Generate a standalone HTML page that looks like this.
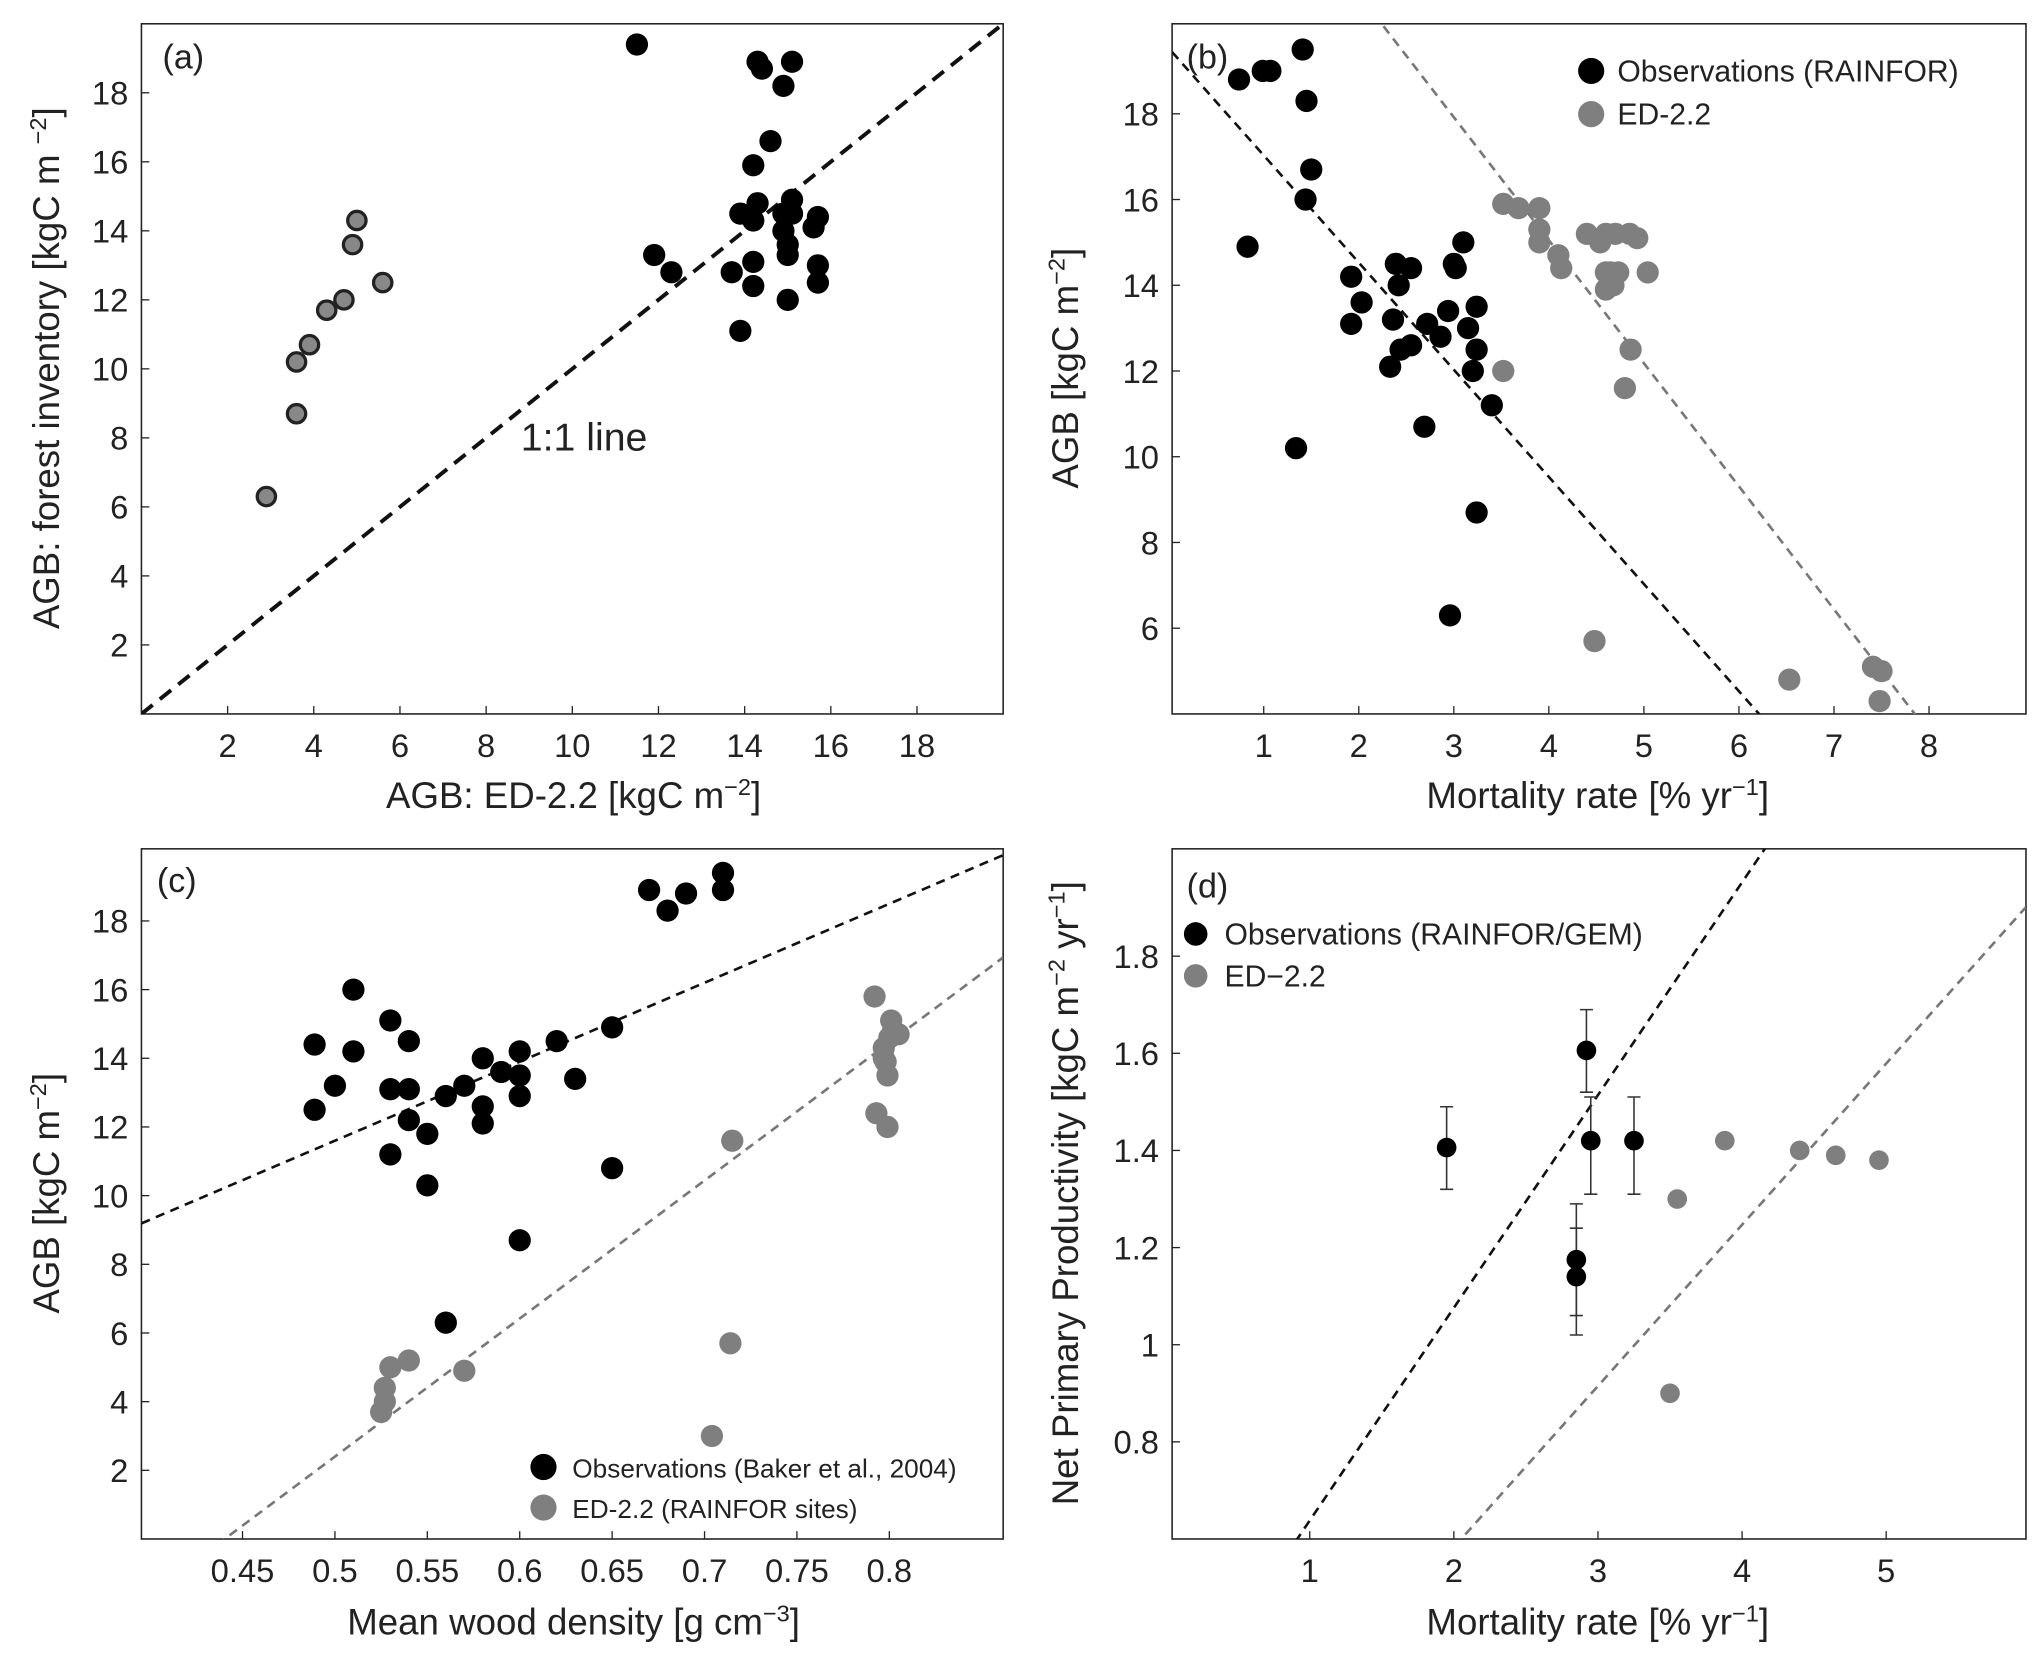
<!DOCTYPE html>
<html><head><meta charset="utf-8"><style>
html,body{margin:0;padding:0;background:#fff;overflow:hidden;width:2043px;height:1661px}
svg{display:block;font-family:"Liberation Sans",Arial,sans-serif}
</style></head><body>
<svg id="fig" width="2043" height="1661" viewBox="0 0 1560 1268" xmlns="http://www.w3.org/2000/svg"></svg>
<script>
// Panel (a)
const aGrayX=[2.9,3.6,3.6,3.9,4.3,4.7,4.9,5.0,5.6];
const aGrayY=[6.3,8.7,10.2,10.7,11.7,12.0,13.6,14.3,12.5];
const aBlackX=[11.5,11.9,12.3,13.7,13.9,13.9,14.2,14.2,14.2,14.2,14.3,14.3,14.4,14.6,14.9,14.9,14.9,15.0,15.0,15.0,15.1,15.1,15.1,15.7,15.6,15.7,15.7];
const aBlackY=[19.4,13.3,12.8,12.8,14.5,11.1,15.9,14.3,13.1,12.4,14.8,18.9,18.7,16.6,18.2,14.5,14.0,12.0,13.6,13.3,14.5,14.9,18.9,14.4,14.1,13.0,12.5];
const aTicksX=[2,4,6,8,10,12,14,16,18];
const aTicksY=[2,4,6,8,10,12,14,16,18];
// Panel (b)
const bBlackX=[0.74,0.99,1.07,1.41,1.45,1.5,1.44,0.83,1.34,1.92,2.03,1.92,2.39,2.42,2.55,2.36,2.33,2.44,2.55,2.72,2.69,2.86,2.94,3.0,3.02,3.1,3.15,3.24,3.24,3.2,3.4,3.24,2.96];
const bBlackY=[18.8,19.0,19.0,19.5,18.3,16.7,16.0,14.9,10.2,14.2,13.6,13.1,14.5,14.0,14.4,13.2,12.1,12.5,12.6,13.1,10.7,12.8,13.4,14.5,14.4,15.0,13.0,13.5,12.5,12.0,11.2,8.7,6.3];
const bGrayX=[3.52,3.68,3.9,3.9,3.9,4.1,4.13,4.4,4.54,4.6,4.7,4.85,4.93,5.04,4.6,4.65,4.73,4.6,4.68,3.52,4.86,4.8,4.48,6.53,7.41,7.5,7.48];
const bGrayY=[15.9,15.8,15.8,15.3,15.0,14.7,14.4,15.2,15.0,15.2,15.2,15.2,15.1,14.3,14.3,14.3,14.3,13.9,14.0,12.0,12.5,11.6,5.7,4.8,5.1,5.0,4.3];
const bFitBlack=[19.53,-2.5];
const bFitGray=[26.53,-2.87];
const bTicksX=[1,2,3,4,5,6,7,8];
const bTicksY=[6,8,10,12,14,16,18];
// Panel (c)
const cBlackX=[0.489,0.489,0.5,0.51,0.51,0.53,0.53,0.53,0.54,0.54,0.54,0.55,0.55,0.56,0.56,0.57,0.58,0.58,0.58,0.59,0.6,0.6,0.6,0.6,0.62,0.63,0.65,0.65,0.67,0.68,0.69,0.71,0.71];
const cBlackY=[12.5,14.4,13.2,16.0,14.2,15.1,13.1,11.2,14.5,13.1,12.2,11.8,10.3,12.9,6.3,13.2,14.0,12.6,12.1,13.6,14.2,13.5,12.9,8.7,14.5,13.4,14.9,10.8,18.9,18.3,18.8,19.4,18.9];
const cGrayX=[0.525,0.527,0.527,0.53,0.54,0.57,0.704,0.714,0.715,0.792,0.793,0.799,0.797,0.798,0.799,0.801,0.802,0.805,0.8,0.797];
const cGrayY=[3.7,4.0,4.4,5.0,5.2,4.9,3.0,5.7,11.6,15.8,12.4,12.0,14.3,13.9,13.5,15.1,14.8,14.7,14.6,14.0];
const cFitBlack=[0.1,23];
const cFitGray=[-17.7,40.2];
const cTicksX=[0.45,0.5,0.55,0.6,0.65,0.7,0.75,0.8];
const cTicksY=[2,4,6,8,10,12,14,16,18];
// Panel (d)
const dBlackX=[1.95,2.92,2.95,3.25,2.85,2.85];
const dBlackY=[1.406,1.606,1.42,1.42,1.175,1.14];
const dBlackLo=[1.32,1.52,1.31,1.31,1.06,1.02];
const dBlackHi=[1.49,1.69,1.51,1.51,1.29,1.24];
const dGrayX=[3.55,3.88,4.4,4.65,4.95,3.5];
const dGrayY=[1.30,1.42,1.40,1.39,1.38,0.90];
const dFitBlack=[0.2,0.438];
const dFitGray=[-0.081,0.332];
const dTicksX=[1,2,3,4,5];
const dTicksY=[0.8,1,1.2,1.4,1.6,1.8];
const dTickLabels=["0.8","1","1.2","1.4","1.6","1.8"];

const NS="http://www.w3.org/2000/svg";
const svg=document.getElementById('fig');
function mk(tag,attrs,parent){const e=document.createElementNS(NS,tag);for(const k in attrs)e.setAttribute(k,attrs[k]);(parent||svg).appendChild(e);return e;}
function scale(d0,d1,r0,r1){return v=>r0+(v-d0)/(d1-d0)*(r1-r0);}

function panel(p){
  const g=mk('g',{});
  
  
  const sx=scale(p.xd[0],p.xd[1],p.x0,p.x1), sy=scale(p.yd[0],p.yd[1],p.y1,p.y0);
  const box=mk('rect',{x:p.x0,y:p.y0,width:p.x1-p.x0,height:p.y1-p.y0,fill:'none',stroke:'#222','stroke-width':1.2},g);
  
  
  p.tx.forEach((t,i)=>{const x=sx(t);
    mk('line',{x1:x,x2:x,y1:p.y1,y2:p.y1-6,stroke:'#222'},g);
    const tl=mk('text',{x:x,y:p.y1+33,'font-size':25,'text-anchor':'middle',fill:'#222'},g);tl.textContent=p.txl?p.txl[i]:t;
    
    });
  p.ty.forEach((t,i)=>{const y=sy(t);
    mk('line',{x1:p.x0,x2:p.x0+6,y1:y,y2:y,stroke:'#222'},g);
    const tl=mk('text',{x:p.x0-10,y:y+9,'font-size':25,'text-anchor':'end',fill:'#222'},g);tl.textContent=p.tyl?p.tyl[i]:t;
    
    });
  const clip=mk('clipPath',{id:'clip'+p.id},g);
  mk('rect',{x:p.x0,y:p.y0,width:p.x1-p.x0,height:p.y1-p.y0},clip);
  const inner=mk('g',{'clip-path':'url(#clip'+p.id+')'},g);
  (p.fits||[]).forEach(f=>{const xa=p.xd[0],xb=p.xd[1];
    const l=mk('line',{x1:sx(xa),y1:sy(f.c[0]+f.c[1]*xa),x2:sx(xb),y2:sy(f.c[0]+f.c[1]*xb),stroke:f.color,'stroke-width':f.w||2,'stroke-dasharray':f.dash||'7,5'},inner);
    
    });
  (p.series||[]).forEach(s=>{
    if(s.lo){s.x.forEach((v,i)=>{const x=sx(v);
      const e=mk('path',{d:`M${x},${sy(s.lo[i])}V${sy(s.hi[i])}M${x-5},${sy(s.lo[i])}h10M${x-5},${sy(s.hi[i])}h10`,stroke:'#333','stroke-width':1.2,fill:'none'},inner);
      
      });}
    s.x.forEach((v,i)=>{
      const c=mk('circle',{cx:sx(v),cy:sy(s.y[i]),r:s.r||8.5,fill:s.fill,stroke:s.stroke||'none','stroke-width':s.sw||0},inner);
      
      });
  });
  return {g,sx,sy};
}
function label(txt,x,y,rot,name,size){
  const t=mk('text',{x:x,y:y,'font-size':size||28,'text-anchor':'middle',fill:'#222',transform:rot?`rotate(-90 ${x} ${y})`:''});
  t.innerHTML=txt;
  
  
  return t;
}
const sup=s=>`<tspan font-size="18" dy="-10">${s}</tspan><tspan dy="10">`;

// (a)
panel({id:'a',x0:108,x1:766,y0:18,y1:545,xd:[0,20],yd:[0,20],tx:aTicksX,ty:aTicksY,
  fits:[{c:[0,1],color:'#111',w:3,dash:'11,7',name:'one-to-one-line'}],
  series:[{x:aGrayX,y:aGrayY,fill:'#888',stroke:'#222',sw:2.5,r:7,name:'ed-point'},{x:aBlackX,y:aBlackY,fill:'#000',name:'inventory-point'}]});
label('(a)',140,52,false,'panel-a-label',26);
label('1:1 line',446,344,false,'one-to-one-annotation',30);
label('AGB: forest inventory [kgC m '+sup('−2')+']</tspan>',45,281,true,'y-axis-title-a');
label('AGB: ED-2.2 [kgC m'+sup('−2')+']</tspan>',438,617,false,'x-axis-title-a');

// (b)
panel({id:'b',x0:895,x1:1547,y0:18,y1:545,xd:[0.036,9.02],yd:[4,20.1],tx:bTicksX,ty:bTicksY,
  fits:[{c:bFitBlack,color:'#111',name:'obs-fit-line'},{c:bFitGray,color:'#777',name:'ed-fit-line'}],
  series:[{x:bGrayX,y:bGrayY,fill:'#7f7f7f',name:'ed-point'},{x:bBlackX,y:bBlackY,fill:'#000',name:'obs-point'}]});
label('(b)',922,52,false,'panel-b-label',26);
mk('circle',{cx:1215,cy:54,r:10,fill:'#000'});
mk('circle',{cx:1215,cy:87,r:10,fill:'#7f7f7f'});
const lb1=mk('text',{x:1235,y:62,'font-size':23,fill:'#222'});lb1.textContent='Observations (RAINFOR)';

const lb2=mk('text',{x:1235,y:95,'font-size':23,fill:'#222'});lb2.textContent='ED-2.2';

label('AGB [kgC m'+sup('−2')+']</tspan>',823,281,true,'y-axis-title-b');
label('Mortality rate [% yr'+sup('−1')+']</tspan>',1220,617,false,'x-axis-title-b');

// (c)
panel({id:'c',x0:108,x1:766,y0:648,y1:1175,xd:[0.3953,0.8616],yd:[0,20.1],tx:cTicksX,ty:cTicksY,
  txl:cTicksX.map(v=>String(v)),
  fits:[{c:cFitBlack,color:'#111',name:'obs-fit-line'},{c:cFitGray,color:'#777',name:'ed-fit-line'}],
  series:[{x:cGrayX,y:cGrayY,fill:'#7f7f7f',name:'ed-point'},{x:cBlackX,y:cBlackY,fill:'#000',name:'obs-point'}]});
label('(c)',135,681,false,'panel-c-label',26);
mk('circle',{cx:415,cy:1120,r:10,fill:'#000'});
mk('circle',{cx:415,cy:1151,r:10,fill:'#7f7f7f'});
const lc1=mk('text',{x:437,y:1128,'font-size':20,fill:'#222'});lc1.textContent='Observations (Baker et al., 2004)';

const lc2=mk('text',{x:437,y:1159,'font-size':20,fill:'#222'});lc2.textContent='ED-2.2 (RAINFOR sites)';

label('AGB [kgC m'+sup('−2')+']</tspan>',45,911,true,'y-axis-title-c');
label('Mean wood density [g cm'+sup('−3')+']</tspan>',438,1248,false,'x-axis-title-c');

// (d)
panel({id:'d',x0:895,x1:1547,y0:648,y1:1175,xd:[0.045,5.97],yd:[0.6,2.021],tx:dTicksX,ty:dTicksY,tyl:dTickLabels,
  fits:[{c:dFitBlack,color:'#111',name:'obs-fit-line'},{c:dFitGray,color:'#777',name:'ed-fit-line'}],
  series:[{x:dGrayX,y:dGrayY,fill:'#7f7f7f',r:7.5,name:'ed-point'},{x:dBlackX,y:dBlackY,lo:dBlackLo,hi:dBlackHi,fill:'#000',r:7.5,name:'obs-point'}]});
label('(d)',922,685,false,'panel-d-label',26);
mk('circle',{cx:913,cy:713,r:9,fill:'#000'});
mk('circle',{cx:913,cy:745,r:9,fill:'#7f7f7f'});
const ld1=mk('text',{x:935,y:721,'font-size':23,fill:'#222'});ld1.textContent='Observations (RAINFOR/GEM)';

const ld2=mk('text',{x:935,y:753,'font-size':23,fill:'#222'});ld2.textContent='ED−2.2';

label('Net Primary Productivity [kgC m'+sup('−2')+' yr'+sup('−1')+']</tspan></tspan>',823,911,true,'y-axis-title-d');
label('Mortality rate [% yr'+sup('−1')+']</tspan>',1220,1248,false,'x-axis-title-d');
</script>
</body></html>
